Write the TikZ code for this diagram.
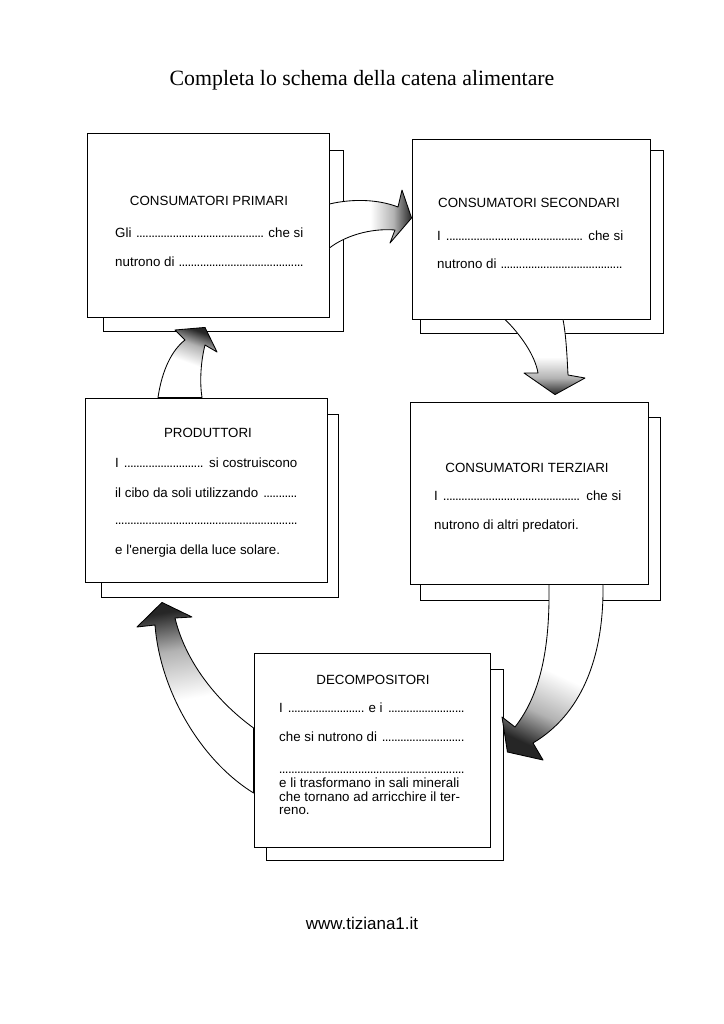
\documentclass[tikz,border=0pt]{standalone}
\usepackage{fontspec}
\setmainfont{Liberation Sans}
\newfontfamily\seriffont{Liberation Serif}
\usetikzlibrary{calc, positioning}
\newcommand{\pix}{0.29mm}
\newcommand{\puntini}{\leaders\hbox to 2.5pt{\hss.\hss}\hfill}
\pgfdeclarehorizontalshading{sfumatura}{100bp}{color(0bp)=(white); color(25bp)=(white); color(50bp)=(white); color(64bp)=(black!30); color(75bp)=(black!85); color(100bp)=(black!85)}
\tikzset{
    scheda/.style={draw, fill=white, line width=0.7pt, inner sep=0pt},
    titolo/.style={font=\fontsize{11}{13}\selectfont, anchor=base, inner sep=0pt},
    riga/.style={font=\fontsize{11}{13}\selectfont, anchor=base west, inner sep=0pt},
    freccia/.style={draw, line width=0.7pt, line join=round, shading=sfumatura}
}

\begin{document}
\begin{tikzpicture}[x=0.29mm, y=-0.29mm]
    \path[use as bounding box, fill=white] (0,0) rectangle (724,1024);
    \node[font=\seriffont\fontsize{18}{22}\selectfont, anchor=base] (intestazione) at (362,85) {Completa lo schema della catena alimentare};
    % fogli dietro
    \node[scheda, minimum width=240*\pix, minimum height=181*\pix] (primaridietro) at (223,240.5) {};
    \node[scheda, minimum width=243*\pix, minimum height=183*\pix] (secondaridietro) at (541.5,241.5) {};
    \node[scheda, minimum width=237*\pix, minimum height=183*\pix] (produttoridietro) at (219.5,505.5) {};
    \node[scheda, minimum width=240*\pix, minimum height=183*\pix] (terziaridietro) at (540,508.5) {};
    \node[scheda, minimum width=237*\pix, minimum height=191*\pix] (decompositoridietro) at (384.5,764.5) {};
    % fogli davanti
    \node[scheda, minimum width=242*\pix, minimum height=184*\pix] (primari) at (208,225) {};
    \node[scheda, minimum width=238*\pix, minimum height=180*\pix] (secondari) at (531,229) {};
    \node[scheda, minimum width=242*\pix, minimum height=184*\pix] (produttori) at (206,490) {};
    \node[scheda, minimum width=238*\pix, minimum height=182*\pix] (terziari) at (529,493) {};
    \node[scheda, minimum width=236*\pix, minimum height=194*\pix] (decompositori) at (372,750) {};
    % testi
    \node[titolo] (tprimari) at (209,205) {CONSUMATORI PRIMARI};
    \node[riga] (primari1) at (115,237) {\makebox[54.5mm][l]{Gli \puntini\ che si}};
    \node[riga] (primari2) at (115,266) {\makebox[54.5mm][l]{nutrono di \puntini}};
    \node[titolo] (tsecondari) at (529,207) {CONSUMATORI SECONDARI};
    \node[riga] (secondari1) at (437,240) {\makebox[53.9mm][l]{I \puntini\ che si}};
    \node[riga] (secondari2) at (437,268) {\makebox[53.9mm][l]{nutrono di \puntini}};
    \node[titolo] (tproduttori) at (208,437) {PRODUTTORI};
    \node[riga] (produttori1) at (115,467) {\makebox[52.8mm][l]{I \puntini\ si costruiscono}};
    \node[riga] (produttori2) at (115,497) {\makebox[52.8mm][l]{il cibo da soli utilizzando \puntini}};
    \node[riga] (produttori3) at (115,524) {\makebox[52.8mm][l]{\puntini}};
    \node[riga] (produttori4) at (115,554) {e l\textquotesingle energia della luce solare.};
    \node[titolo] (tterziari) at (527,472) {CONSUMATORI TERZIARI};
    \node[riga] (terziari1) at (434,500) {\makebox[54.2mm][l]{I \puntini\ che si}};
    \node[riga] (terziari2) at (434,529) {nutrono di altri predatori.};
    \node[titolo] (tdecompositori) at (373,684) {DECOMPOSITORI};
    \node[riga] (decompositori1) at (279,712) {\makebox[53.7mm][l]{I \puntini\ e i \puntini}};
    \node[riga] (decompositori2) at (279,741) {\makebox[53.7mm][l]{che si nutrono di \puntini}};
    \node[riga] (decompositori3) at (279,773) {\makebox[53.7mm][l]{\puntini}};
    \node[riga] (decompositori4) at (279,787) {e li trasformano in sali minerali};
    \node[riga] (decompositori5) at (279,801) {che tornano ad arricchire il ter-};
    \node[riga] (decompositori6) at (279,814) {reno.};
    % frecce
    \path[freccia, shading angle=0] ($(primari.east)+(0,-21)$) .. controls (355,198) and (380,200) .. (398,207)
        -- (402,190) -- ($(secondari.west)+(0,-11)$) -- (390,243) -- (395,230)
        .. controls (370,228) and (345,236) .. ($(primari.east)+(0,23)$) -- cycle;
    \path[freccia, shading angle=-90] ($(secondari.south)+(-26,0)$) .. controls (520,334) and (535,355) .. (538,373)
        -- (524,373) -- ($(terziari.north)+(26,-7)$) -- (585,378) -- (568,375)
        .. controls (567,355) and (566,335) .. ($(secondari.south)+(32,0)$) -- cycle;
    \path[freccia, shading angle=70] ($(produttori.north)+(-48,0)$) .. controls (162,370) and (172,350) .. (185,340)
        -- (175,330) -- ($(primari.south)+(-3,10)$) -- (217,352) -- (205,345)
        .. controls (200,365) and (200,385) .. ($(produttori.north)+(-4,0)$) -- cycle;
    \path[freccia, shading angle=-115] ($(terziari.south)+(20,0)$) .. controls (550,650) and (540,695) .. (515,727)
        -- (502,717) -- ($(decompositori.east)+(17,2)$) -- (543,760) -- (533,743)
        .. controls (580,715) and (604,660) .. ($(terziari.south)+(74,0)$) -- cycle;
    \path[freccia, shading angle=100] ($(decompositori.west)+(0,-22)$) .. controls (215,700) and (185,660) .. (175,618)
        -- (192,617) -- ($(produttori.south)+(-44,20)$) -- (137,627) -- (155,625)
        .. controls (160,690) and (200,760) .. ($(decompositori.west)+(0,43)$) -- cycle;
    \node[font=\fontsize{14}{17}\selectfont, anchor=base] (sito) at (362,929) {www.tiziana1.it};
\end{tikzpicture}
\end{document}
